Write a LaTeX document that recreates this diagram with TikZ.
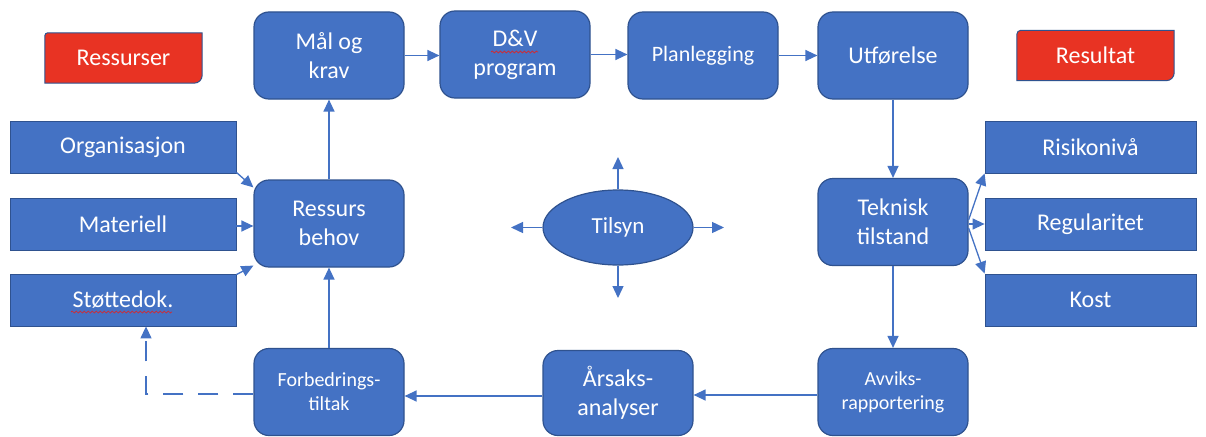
\documentclass[tikz,border=0pt]{standalone}
\usepackage{fontspec}
\setmainfont{Carlito}
\usetikzlibrary{arrows.meta,shapes.geometric,decorations.pathmorphing,backgrounds}
\definecolor{boxblue}{HTML}{4472C4}
\definecolor{edgeblue}{HTML}{2F528F}
\definecolor{linkblue}{HTML}{4472C4}
\definecolor{tagred}{HTML}{E83323}
\definecolor{spellred}{HTML}{D9262A}

\begin{document}
\begin{tikzpicture}[x=1pt,y=-1pt,
  txt/.style={text=white,font=\fontsize{24}{29}\selectfont,align=center,inner sep=0pt},
  smalltxt/.style={font=\fontsize{20}{24}\selectfont},
  stepbox/.style={txt,draw=edgeblue,line width=1.2pt,fill=boxblue,rounded corners=15pt,
    minimum width=150pt,minimum height=87pt},
  sidebox/.style={txt,draw=edgeblue,line width=0.8pt,fill=boxblue,
    minimum width=211pt,minimum height=52pt},
  tagbox/.style={txt,minimum width=157pt,minimum height=50pt},
  tagshape/.style={fill=tagred,draw=edgeblue,line width=1pt},
  link/.style={draw=linkblue,line width=1.3pt,-{Triangle[length=12pt,width=11pt]}},
  dashlink/.style={link,dash pattern=on 20pt off 15pt},
  spell/.style={draw=spellred,line width=0.7pt,decorate,
    decoration={snake,amplitude=1pt,segment length=4pt}}
]
\useasboundingbox (0,0) rectangle (1206,436);

% process steps
\node[stepbox] (mal)  at (329,55.5) {Mål og\\krav};
\node[stepbox] (dv)   at (515,54.5) {D\&V\\program};
\node[stepbox,font=\fontsize{22}{27}\selectfont] (plan) at (703,55.5) {Planlegging};
\node[stepbox] (utf)  at (893,55.5) {Utførelse};
\node[stepbox] (behov) at (329,223.5) {Ressurs\\behov};
\node[stepbox] (tek)  at (893,222) {Teknisk\\tilstand};
\node[stepbox,smalltxt] (forb) at (329,392) {Forbedrings-\\tiltak};
\node[stepbox,minimum height=85pt] (arsak) at (618,393) {Årsaks-\\analyser};
\node[stepbox,smalltxt] (avvik) at (893,392) {Avviks-\\rapportering};

% resources
\node[sidebox,minimum width=226pt] (org)    at (123,147) {Organisasjon};
\node[sidebox,minimum width=226pt] (mat)    at (123,224) {Materiell};
\node[sidebox,minimum width=226pt] (stotte) at (123,300) {Støttedok.};

% results
\node[sidebox] (risk) at (1090.5,147) {Risikonivå};
\node[sidebox] (reg)  at (1090.5,224) {Regularitet};
\node[sidebox] (kost) at (1090.5,300) {Kost};

% headings
\node[tagbox] (ressurser) at (123.5,58) {Ressurser};
\node[tagbox] (resultat)  at (1095.5,55.5) {Resultat};

% supervision
\node[ellipse,draw=edgeblue,line width=1.2pt,fill=boxblue,minimum width=150pt,
  minimum height=75pt,inner sep=0pt,text=white,font=\fontsize{23}{28}\selectfont]
  (tilsyn) at (618,227.5) {Tilsyn};

\begin{scope}[on background layer]
  \fill[white] (0,0) rectangle (1206,436);
  \foreach \t/\r in {ressurser/3pt,resultat/4pt}{
    \path[tagshape] (\t.north) [sharp corners] -- (\t.north east) -- (\t.east)
      [rounded corners=8pt] -- (\t.south east) -- (\t.south)
      [sharp corners] -- (\t.south west) -- (\t.west)
      [rounded corners=\r] -- (\t.north west) -- cycle;
  }
\end{scope}

% spelling marks
\draw[spell] ([shift={(-24,-2.5)}]dv.center) -- ([shift={(23,-2.5)}]dv.center);
\draw[spell] ([shift={(-52,12)}]stotte.center) -- ([shift={(49,12)}]stotte.center);

% main cycle
\draw[link] (mal.east) -- (mal.east -| dv.west);
\draw[link] (dv.east) -- (dv.east -| plan.west);
\draw[link] (plan.east) -- (plan.east -| utf.west);
\draw[link] (utf.south) -- (tek.north);
\draw[link] (tek.south) -- (avvik.north);
\draw[link] ([yshift=-3pt]avvik.west) -- ([yshift=-3pt]avvik.west -| arsak.east);
\draw[link] ([yshift=-3pt]arsak.west) -- ([yshift=-3pt]arsak.west -| forb.east);
\draw[link] (forb.north) -- (behov.south);
\draw[link] (behov.north) -- (mal.south);

% inputs to resource need
\draw[link] ([yshift=1pt]org.south east) -- ([yshift=-8pt]behov.north west);
\draw[link] ([yshift=-2pt]mat.east) -- ([yshift=-2pt]mat.east -| behov.west);
\draw[link] ([yshift=-1pt]stotte.north east) -- ([yshift=2pt]behov.south west);

% outputs from technical condition
\draw[link] ([yshift=2pt]tek.east) -- (risk.south west);
\draw[link] (tek.east |- reg.west) -- (reg.west);
\draw[link] ([yshift=-6pt]tek.east) -- (kost.north west);

% supervision arrows
\coordinate (tn) at (618,157);
\coordinate (ts) at (618,298);
\coordinate (tw) at (511,227.5);
\coordinate (te) at (724,227.5);
\draw[link] (tilsyn.north) -- (tn);
\draw[link] (tilsyn.south) -- (ts);
\draw[link] (tilsyn.west) -- (tw);
\draw[link] (tilsyn.east) -- (te);

% feedback to documentation
\coordinate (fb) at (146,394);
\draw[dashlink] ([yshift=-2pt]forb.west) -- (fb) -- (fb |- stotte.south);
\end{tikzpicture}
\end{document}
